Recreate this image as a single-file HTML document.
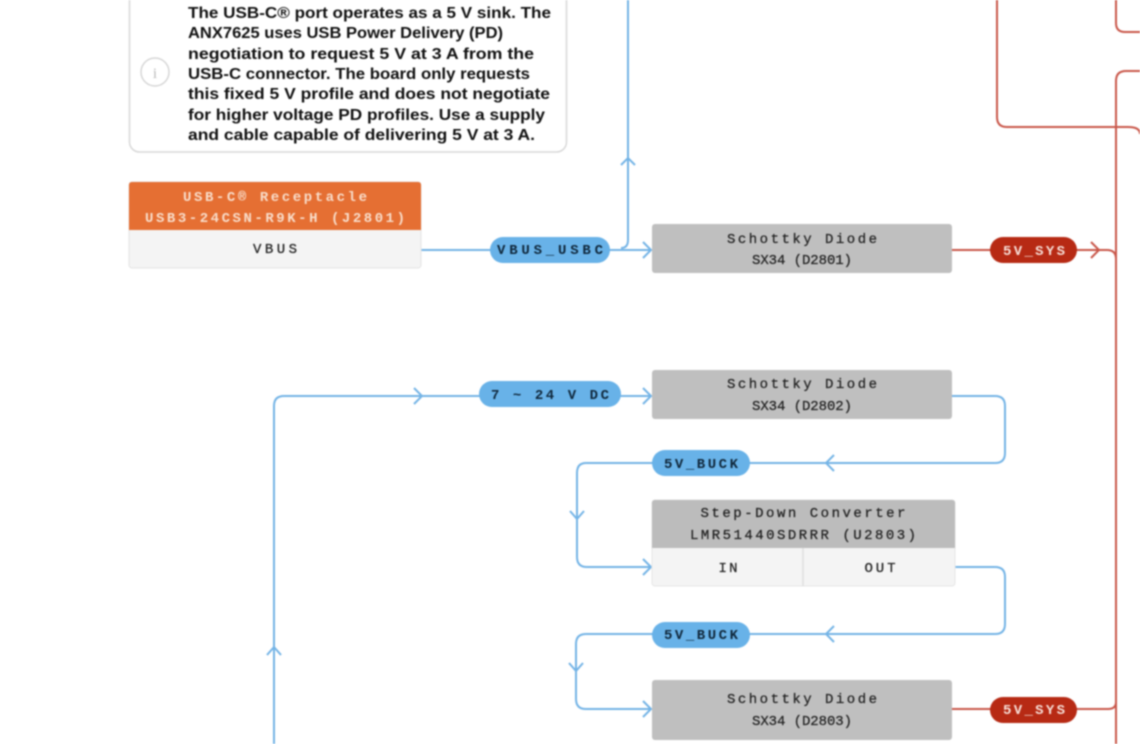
<!DOCTYPE html>
<html>
<head>
<meta charset="utf-8">
<style>
html,body{margin:0;padding:0;background:#fff;width:1140px;height:744px;overflow:hidden}
svg{display:block;filter:blur(.85px)}
.n{font-family:"Liberation Sans Narrow","Liberation Sans",sans-serif;font-size:16px;font-weight:700;fill:#111}
.m{font-family:"Liberation Mono",monospace;font-size:14px;text-anchor:middle;fill:#222;stroke:#222;stroke-width:.25}
.b{font-family:"Liberation Mono",monospace;font-size:14px;font-weight:700;text-anchor:middle;fill:#10283c}
.w{font-family:"Liberation Mono",monospace;font-size:14px;font-weight:700;text-anchor:middle;fill:#f6ddd6}
.o{font-family:"Liberation Mono",monospace;font-size:14px;font-weight:700;text-anchor:middle;fill:#f8dcc9}
.bl{fill:none;stroke:#74b4e6;stroke-width:2}
.rd{fill:none;stroke:#c9574a;stroke-width:2}
</style>
</head>
<body>
<svg width="1140" height="744" viewBox="0 0 1140 744" xmlns="http://www.w3.org/2000/svg">
<!-- red connectors -->
<path class="rd" d="M1140 32H1125Q1116 32 1116 23V0"/>
<path class="rd" d="M997 0V117Q997 127 1007 127H1128Q1140 127 1140 134"/>
<path class="rd" d="M1140 71H1126Q1116 71 1116 81V744"/>
<path class="rd" d="M951 250H1107Q1116 250 1116 259"/>
<path class="rd" d="M1091 242L1099 250L1091 258"/>
<path class="rd" d="M951 709H1108Q1116 709 1116 702"/>

<!-- blue connectors -->
<path class="bl" d="M421 250H651"/>
<path class="bl" d="M621 248Q628 248 628 240V0"/>
<path class="bl" d="M621 165L628 158L635 165M643 242L651 250L643 258"/>
<path class="bl" d="M274 744V406Q274 396 284 396H651"/>
<path class="bl" d="M414 388L422 396L414 404M643 388L651 396L643 404"/>
<path class="bl" d="M267 655L274 647L281 655"/>
<path class="bl" d="M951 396H995Q1005 396 1005 406V453Q1005 463 995 463H586Q577 463 577 473V557Q577 567 587 567H651"/>
<path class="bl" d="M834 455L826 463L834 471M570 511L577 519L584 511M643 559L651 567L643 575"/>
<path class="bl" d="M955 567H995Q1005 567 1005 577V624Q1005 634 995 634H586Q576 634 576 644V699Q576 709 586 709H651"/>
<path class="bl" d="M834 626L826 634L834 642M569 663L576 671L583 663M643 701L651 709L643 717"/>

<!-- note -->
<rect x="129.500" y="-20" width="437" height="172" rx="10" fill="#fff" stroke="#d8d8d8" stroke-width="1.500"/>
<circle cx="155" cy="72" r="14" fill="#fff" stroke="#d6d6d6" stroke-width="1.500"/>
<text x="155" y="78" font-family="Liberation Serif,serif" font-size="15" fill="#bbb" text-anchor="middle">i</text>
<text class="n" x="188" y="18" textLength="363" lengthAdjust="spacingAndGlyphs">The USB-C® port operates as a 5 V sink. The</text>
<text class="n" x="188" y="38" textLength="315" lengthAdjust="spacingAndGlyphs">ANX7625 uses USB Power Delivery (PD)</text>
<text class="n" x="188" y="59" textLength="346" lengthAdjust="spacingAndGlyphs">negotiation to request 5 V at 3 A from the</text>
<text class="n" x="188" y="79" textLength="342" lengthAdjust="spacingAndGlyphs">USB-C connector. The board only requests</text>
<text class="n" x="188" y="99" textLength="362" lengthAdjust="spacingAndGlyphs">this fixed 5 V profile and does not negotiate</text>
<text class="n" x="188" y="120" textLength="357" lengthAdjust="spacingAndGlyphs">for higher voltage PD profiles. Use a supply</text>
<text class="n" x="188" y="140" textLength="347" lengthAdjust="spacingAndGlyphs">and cable capable of delivering 5 V at 3 A.</text>

<!-- USB-C receptacle -->
<rect x="129" y="182" width="292" height="86" rx="3" fill="#f4f4f4" stroke="#e4e4e4"/>
<path d="M129 230V185Q129 182 132 182H418Q421 182 421 185V230Z" fill="#e56f33"/>
<text class="o" x="275" y="201" textLength="184">USB-C® Receptacle</text>
<text class="o" x="275" y="222" textLength="260">USB3-24CSN-R9K-H (J2801)</text>
<text class="m" x="275" y="253" textLength="44">VBUS</text>

<!-- diodes -->
<rect x="652" y="224" width="300" height="49" rx="3" fill="#bfbfbf"/>
<text class="m" x="802" y="243" textLength="150">Schottky Diode</text>
<text class="m" x="802" y="264" textLength="100">SX34 (D2801)</text>
<rect x="652" y="370" width="300" height="49" rx="3" fill="#bfbfbf"/>
<text class="m" x="802" y="388" textLength="150">Schottky Diode</text>
<text class="m" x="802" y="410" textLength="100">SX34 (D2802)</text>
<rect x="652" y="680" width="300" height="60" rx="3" fill="#bfbfbf"/>
<text class="m" x="802" y="703" textLength="150">Schottky Diode</text>
<text class="m" x="802" y="725" textLength="100">SX34 (D2803)</text>

<!-- converter -->
<rect x="652" y="500" width="303" height="86" rx="3" fill="#f4f4f4" stroke="#e6e6e6"/>
<path d="M652 548V503Q652 500 655 500H952Q955 500 955 503V548Z" fill="#bcbcbc"/>
<path d="M803 548V586" stroke="#e0e0e0" stroke-width="1.500"/>
<text class="m" x="803" y="517" textLength="205">Step-Down Converter</text>
<text class="m" x="803" y="539" textLength="226">LMR51440SDRRR (U2803)</text>
<text class="m" x="728" y="572" textLength="19">IN</text>
<text class="m" x="880" y="572" textLength="31">OUT</text>

<!-- pills -->
<rect x="490" y="237" width="120" height="26" rx="13" fill="#68b2e8"/>
<text class="b" x="550" y="254" textLength="106">VBUS_USBC</text>
<rect x="479" y="381" width="142" height="26" rx="13" fill="#68b2e8"/>
<text class="b" x="550" y="399" textLength="118">7 ~ 24 V DC</text>
<rect x="652" y="450" width="98" height="26" rx="13" fill="#68b2e8"/>
<text class="b" x="701" y="468" textLength="74">5V_BUCK</text>
<rect x="652" y="622" width="98" height="26" rx="13" fill="#68b2e8"/>
<text class="b" x="701" y="639" textLength="74">5V_BUCK</text>
<rect x="990" y="237" width="87" height="26" rx="13" fill="#b72a14"/>
<text class="w" x="1034" y="255" textLength="62">5V_SYS</text>
<rect x="990" y="697" width="87" height="26" rx="13" fill="#b72a14"/>
<text class="w" x="1034" y="714" textLength="62">5V_SYS</text>
</svg>
</body>
</html>
